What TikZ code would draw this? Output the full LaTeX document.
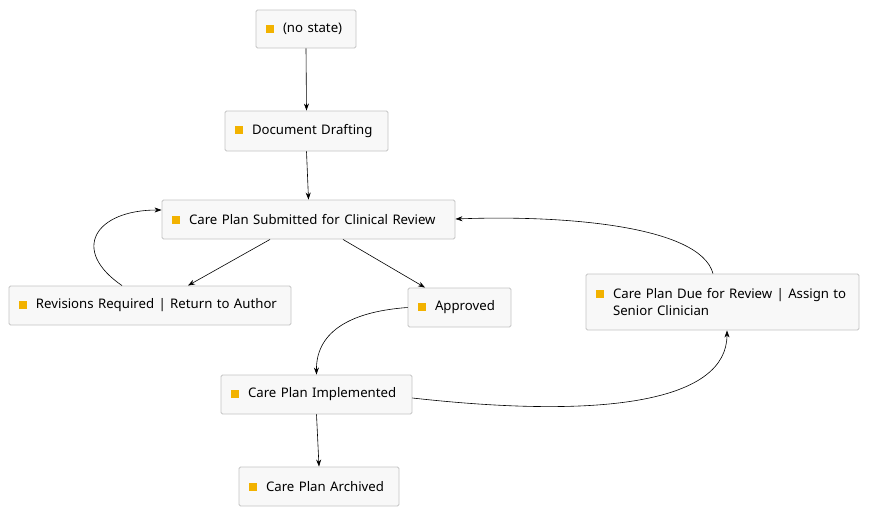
\documentclass[tikz,border=0pt]{standalone}
\usepackage{fontspec}
\setmainfont{Noto Sans}
\usetikzlibrary{arrows.meta}
\definecolor{mk}{HTML}{F2B200}
\definecolor{bd}{HTML}{C4C4C4}
\definecolor{bg}{HTML}{F8F8F8}
\newcommand{\mkr}{\textcolor{mk}{\rule{8pt}{8pt}}\hspace{9pt}}
\begin{document}
\begin{tikzpicture}[x=1pt,y=-1pt,
  st/.style={draw=bd,line width=0.9pt,fill=bg,rounded corners=1.5pt,inner xsep=10pt,inner ysep=0pt,font=\fontsize{13.2pt}{17pt}\selectfont,align=left,anchor=center},
  ar/.style={-{Stealth[length=7pt,width=5pt]},black,line width=0.6pt}]
\useasboundingbox (0,0) rectangle (869,517);
\newcommand{\st}[6]{\node[st,minimum width=#4,minimum height=#5,text width=#4-20] (#1) at (#2,#3) {#6};}
\st{nostate}{306}{29}{100}{38}{\mkr(no state)}
\st{draft}{306.5}{131}{163}{40}{\mkr Document Drafting}
\st{sub}{308.5}{219.5}{293}{39}{\mkr Care Plan Submitted for Clinical Review}
\st{rev}{150}{305.5}{282}{39}{\mkr Revisions Required | Return to Author}
\st{app}{459.5}{307.5}{103}{39}{\mkr Approved}
\st{due}{722.5}{302}{273}{56}{\mkr Care Plan Due for Review | Assign to\\\hspace{17pt}Senior Clinician}
\st{imp}{316.5}{394.5}{191}{39}{\mkr Care Plan Implemented}
\st{arc}{319}{486.5}{160}{39}{\mkr Care Plan Archived}
\draw[ar] (nostate.south) -- (draft.north);
\draw[ar] (draft.south) -- (sub.north);
\draw[ar] (sub.south -| 270,0) -- (rev.north -| 188,0);
\draw[ar] (sub.south -| 343,0) -- (app.north -| 425,0);
\draw[ar] (rev.north -| 122,0) .. controls (70,250) and (95,210) .. (sub.west |- 0,210);
\draw[ar] (app.west) .. controls (345,312) and (316,335) .. (imp.north);
\draw[ar] (imp.east |- 0,398) .. controls (610,420) and (727,400) .. (due.south -| 727,0);
\draw[ar] (due.north -| 713,0) .. controls (700,225) and (560,215) .. (sub.east |- 0,219);
\draw[ar] (imp.south) -- (arc.north);
\end{tikzpicture}
\end{document}
